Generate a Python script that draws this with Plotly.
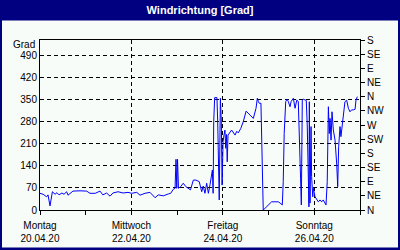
import pandas as pd
import plotly.graph_objects as go

# ---- data ----
start = "2020-04-20"
hours = [0, 1.6, 3.5, 4.2, 5.25, 6.5, 7.9, 8.9, 10, 11.5, 12.6, 14, 14.7, 15.75, 17.3, 21, 24.5,
         26.25, 29, 31.5, 33, 35, 36.75, 38.3, 41, 43.6, 46.2, 48.1, 50.8, 52.5, 55.1, 57.75, 60.4,
         62.1, 64.7, 67.4, 68.6, 70, 70.9, 71.4, 71.8, 72.2, 72.7, 73.8, 75.2, 76.6, 77.9, 79, 80.5,
         81.9, 83.6, 84.9, 85.7, 86.6, 87.5, 88.4, 89.25, 90.1, 90.5, 90.9, 91.2, 91.7, 92.9, 93.3,
         93.6, 94.1, 94.7, 95.2, 95.6, 96.1, 96.6, 97.1, 97.5, 97.9, 98.3, 98.7, 100.6, 102.4, 103.3,
         104.1, 105.4, 106.7, 108.2, 109.4, 110.25, 112, 113.4, 114.1, 114.6, 115.1, 116, 116.7,
         117.2, 118.1, 119, 119.7, 121.6, 123.4, 125.1, 126.5, 127.2, 127.7, 128.2, 129, 129.7,
         130.4, 131.25, 131.8, 133, 133.9, 134.8, 135.6, 136.1, 136.8, 137.2, 137.7, 138.2, 139.1,
         139.8, 140.3, 140.9, 141.2, 141.4, 141.75, 142.3, 142.6, 143.2, 143.5, 144.4, 145.3, 146.1,
         147, 147.9, 148.7, 150.15, 150.8, 151.4, 151.9, 152.25, 152.8, 153.3, 154, 154.9, 155.8,
         156.3, 156.8, 157.5, 158, 158.6, 159.2, 160.1, 161, 161.9, 162.75, 163.6, 164.5, 165.4,
         165.9, 166.6]
degrees = [53, 50, 42, 48, 13, 58, 50, 55, 48, 54, 50, 58, 47, 52, 60, 61, 60,
           53, 53, 60, 48, 54, 44, 54, 58, 54, 56, 53, 56, 47, 53, 56, 39,
           48, 45, 51, 53, 66, 69, 161, 69, 161, 69, 74, 85, 74, 69, 64, 95,
           95, 90, 58, 76, 53, 85, 53, 80, 106, 127, 53, 280, 357, 357, 280,
           117, 32, 355, 280, 79, 217, 238, 254, 196, 240, 153, 238, 254, 238, 250,
           245, 259, 280, 314, 307, 300, 291, 323, 355, 345, 339, 339, 90,
           0, 5, 11, 16, 26, 26, 26, 20, 16, 90, 243, 344, 352,
           344, 328, 344, 355, 323, 349, 345, 265, 101, 16, 349, 352, 350,
           348, 270, 106, 10, 344, 22, 265, 106, 42, 69, 42, 32, 26,
           32, 26, 32, 16, 90, 328, 243, 291, 222, 312, 254, 222, 143,
           74, 201, 265, 233, 270, 312, 344, 349, 323, 312, 318, 318, 320,
           349, 360]

left_ticks = [0, 70, 140, 210, 280, 350, 420, 490]
right_ticks = [0, 45, 90, 135, 180, 225, 270, 315, 360, 405, 450, 495, 540]
right_labels = ["N", "NE", "E", "SE", "S", "SW", "W", "NW", "N", "NE", "E", "SE", "S"]
x_tick_dates = ["2020-04-20", "2020-04-22", "2020-04-24", "2020-04-26"]
x_tick_text = ["Montag<br>20.04.20", "Mittwoch<br>22.04.20", "Freitag<br>24.04.20", "Sonntag<br>26.04.20"]

times = pd.Timestamp(start) + pd.to_timedelta(hours, unit="h")

NAVY = "#000080"
BG = "#F8FCF8"
FONT = "Liberation Sans"

fig = go.Figure()
fig.add_trace(go.Scatter(x=times, y=degrees, mode="lines",
                         line=dict(color="#0000FF", width=1), showlegend=False,
                         hoverinfo="skip"))
fig.add_trace(go.Scatter(x=[times[0]], y=[0], yaxis="y2", mode="markers",
                         marker=dict(opacity=0), showlegend=False, hoverinfo="skip"))

W, H = 400, 250
L, R, T, B = 40, 40, 40, 40
pw, ph = W - L - R, H - T - B

fig.add_shape(type="rect", xref="paper", yref="paper",
              x0=(2 - L) / pw, x1=(W - 2 - L) / pw,
              y0=(H - B - 247.5) / ph, y1=(H - B - 20.5) / ph,
              fillcolor=BG, line=dict(width=0), layer="below")

fig.update_layout(
    width=W, height=H,
    margin=dict(l=L, r=R, t=T, b=B, autoexpand=False),
    paper_bgcolor=NAVY, plot_bgcolor=BG,
    font=dict(family=FONT, size=10, color="black"),
    title=dict(text="<b>Windrichtung [Grad]</b>", x=0.5, xanchor="center",
               y=1 - 10.5 / H, yanchor="middle",
               font=dict(family=FONT, size=11, color="white")),
    xaxis=dict(type="date", range=["2020-04-20", "2020-04-27"],
               tickvals=x_tick_dates, ticktext=x_tick_text,
               ticks="outside", ticklen=4, tickcolor="black",
               ticklabelstandoff=2, automargin=False,
               showline=True, linecolor="black", linewidth=1, mirror=True,
               showgrid=True, gridcolor="black", gridwidth=1, griddash="4px,3px",
               minor=dict(dtick=86400000, ticks="outside", ticklen=4, tickcolor="black",
                          showgrid=False),
               zeroline=False, tickfont=dict(size=10)),
    yaxis=dict(range=[0, 540], tickvals=left_ticks, ticks="", automargin=False,
               showline=True, linecolor="black", linewidth=1,
               showgrid=True, gridcolor="black", gridwidth=1, griddash="4px,3px",
               zeroline=False, tickfont=dict(size=10)),
    yaxis2=dict(range=[0, 540], overlaying="y", side="right", automargin=False,
                tickvals=right_ticks, ticktext=right_labels,
                ticks="outside", ticklen=4, tickcolor="black",
                showline=True, linecolor="black", linewidth=1,
                showgrid=False, zeroline=False, tickfont=dict(size=10)),
)

fig.add_annotation(text="Grad", xref="paper", x=0, xanchor="right", xshift=-3,
                   yref="y", y=525, yanchor="middle", showarrow=False,
                   font=dict(family=FONT, size=10, color="black"))

fig.write_html("out.html", config={"displayModeBar": False})
